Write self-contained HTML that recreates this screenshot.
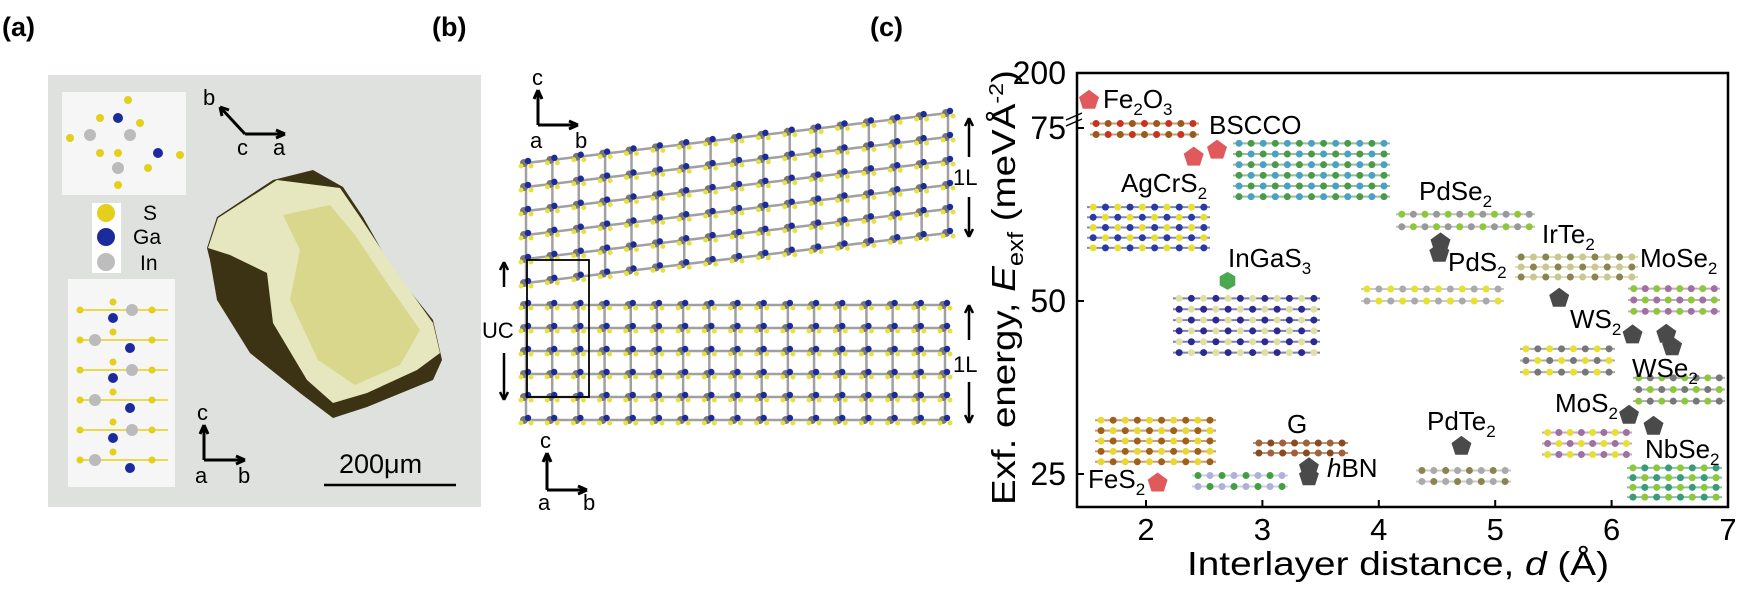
<!DOCTYPE html>
<html><head><meta charset="utf-8">
<style>
body{margin:0;background:#fff;width:1752px;height:600px;overflow:hidden;font-family:"Liberation Sans",sans-serif}
svg{position:absolute;left:0;top:0}
</style></head>
<body>
<svg id="fig" width="1752" height="600" viewBox="0 0 1752 600" xmlns="http://www.w3.org/2000/svg" font-family="Liberation Sans, sans-serif">
<text x="2" y="36" font-size="27" font-weight="bold">(a)</text>
<text x="432" y="36" font-size="27" font-weight="bold">(b)</text>
<text x="870" y="36" font-size="27" font-weight="bold">(c)</text>

<!-- panel a -->
<g id="panela">
<rect x="48" y="75" width="433" height="432" fill="#dfe1de"/>
<polygon points="207,248 217,217 273,180 313,170 343,187 363,217 393,270 433,320 442,360 433,380 367,407 333,418 300,393 250,353 217,300 210,260" fill="#3b3313"/>
<polygon points="208,248 218,218 277,180 340,188 360,217 393,267 433,323 440,353 417,370 367,393 333,403 307,380 273,323 267,273 230,255" fill="#e6e6bf"/>
<polygon points="283,215 330,205 355,235 385,280 420,330 400,365 355,385 318,360 290,300 300,250" fill="#d4d27a" opacity="0.75"/>
<rect x="62" y="92" width="124" height="103" fill="#f6f6f6"/>
<g id="topatoms"></g>
<rect x="92" y="203" width="29" height="70" fill="#fff"/>
<circle cx="106" cy="213" r="9" fill="#e3cf1c"/><circle cx="106" cy="237" r="9" fill="#1c2b9c"/><circle cx="106" cy="262" r="9" fill="#bdbdbd"/>
<text x="143" y="220" font-size="21">S</text>
<text x="133" y="244" font-size="21">Ga</text>
<text x="140" y="270" font-size="21">In</text>
<rect x="68" y="279" width="107" height="208" fill="#f6f6f6"/>
<g id="sideatoms"></g>
<text x="203" y="105" font-size="22">b</text>
<path d="M245,134 L220,107 M220,107 l2,9 M220,107 l9,3 M245,134 L285,134 M285,134 l-9,-4 M285,134 l-9,4" stroke="#000" stroke-width="3" fill="none"/>
<text x="237" y="155" font-size="22">c</text><text x="273" y="155" font-size="22">a</text>
<text x="197" y="420" font-size="22">c</text>
<path d="M204,460 L204,425 M204,425 l-4,9 M204,425 l4,9 M204,460 L245,460 M245,460 l-9,-4 M245,460 l-9,4" stroke="#000" stroke-width="3" fill="none"/>
<text x="195" y="483" font-size="22">a</text><text x="238" y="483" font-size="22">b</text>
<line x1="324" y1="485" x2="456" y2="485" stroke="#000" stroke-width="2.5"/>
<text x="339" y="473" font-size="27">200μm</text>
</g>

<!-- panel b -->
<g id="panelb">
<text x="532" y="85" font-size="22">c</text>
<path d="M538,125 L538,90 M538,90 l-4,9 M538,90 l4,9 M538,125 L578,125 M578,125 l-9,-4 M578,125 l-9,4" stroke="#000" stroke-width="3" fill="none"/>
<text x="530" y="148" font-size="22">a</text><text x="575" y="148" font-size="22">b</text>
<text x="540" y="448" font-size="22">c</text>
<path d="M547,490 L547,453 M547,453 l-4,9 M547,453 l4,9 M547,490 L587,490 M587,490 l-9,-4 M587,490 l-9,4" stroke="#000" stroke-width="3" fill="none"/>
<text x="538" y="510" font-size="22">a</text><text x="583" y="510" font-size="22">b</text>
<text x="482" y="338" font-size="22">UC</text>
<path d="M504,287 L504,262 M504,262 l-4,8 M504,262 l4,8 M504,353 L504,400 M504,400 l-4,-8 M504,400 l4,-8" stroke="#000" stroke-width="2.5" fill="none"/>
<path d="M969,157 L969,118 M969,118 l-4,8 M969,118 l4,8 M969,197 L969,237 M969,237 l-4,-8 M969,237 l4,-8" stroke="#000" stroke-width="2.5" fill="none"/>
<text x="953" y="185" font-size="22">1L</text>
<path d="M969,340 L969,305 M969,305 l-4,8 M969,305 l4,8 M969,382 L969,423 M969,423 l-4,-8 M969,423 l4,-8" stroke="#000" stroke-width="2.5" fill="none"/>
<text x="953" y="372" font-size="22">1L</text>
</g>

<g id="chart"></g>
</svg>
<script>
(function(){
  var ns='http://www.w3.org/2000/svg';
  function el(tag,a,p){var e=document.createElementNS(ns,tag);for(var k in a)e.setAttribute(k,a[k]);p.appendChild(e);return e;}
  // insets in panel a
  var ta=document.getElementById('topatoms');
  var tpts=[[90,135,'#bbb',6],[130,135,'#bbb',6],[118,118,'#1c2b9c',5],[158,153,'#1c2b9c',5],[118,168,'#bbb',6],[70,138,'#e3cf1c',4],[100,118,'#e3cf1c',4],[140,123,'#e3cf1c',4],[180,155,'#e3cf1c',4],[148,168,'#e3cf1c',4],[100,153,'#e3cf1c',4],[118,153,'#e3cf1c',4],[128,100,'#e3cf1c',4],[118,185,'#e3cf1c',4]];
  tpts.forEach(function(p){el('circle',{cx:p[0],cy:p[1],r:p[3],fill:p[2]},ta);});
  var sa=document.getElementById('sideatoms');
  for(var r=0;r<6;r++){
    var y=310+r*30;
    el('line',{x1:78,y1:y,x2:168,y2:y,stroke:'#e3cf1c','stroke-width':1.5},sa);
    el('circle',{cx:(r%2?95:132),cy:y,r:6,fill:'#bbb'},sa);
    el('circle',{cx:(r%2?130:113),cy:y+8,r:5,fill:'#1c2b9c'},sa);
    el('circle',{cx:80,cy:y,r:3.5,fill:'#e3cf1c'},sa);
    el('circle',{cx:152,cy:y,r:3.5,fill:'#e3cf1c'},sa);
    el('circle',{cx:113,cy:y-8,r:3.5,fill:'#e3cf1c'},sa);
  }
  var g=document.getElementById('panelb');
  function slab(x0,x1,yTL,yTR,h,rows,cols){
    var dx=(x1-x0)/(cols-1),sl=(yTR-yTL)/(cols-1),dy=h/(rows-1);
    for(var r=0;r<rows;r++)for(var c=0;c<cols;c++){
      var x=x0+dx*c,y=yTL+sl*c+dy*r;
      if(c<cols-1)el('line',{x1:x,y1:y,x2:x+dx,y2:y+sl,stroke:'#a0a0a0','stroke-width':2.5},g);
      if(r<rows-1)el('line',{x1:x,y1:y,x2:x,y2:y+dy,stroke:'#a0a0a0','stroke-width':2.5},g);
    }
    for(var r=0;r<rows;r++)for(var c=0;c<cols;c++){
      var x=x0+dx*c,y=yTL+sl*c+dy*r;
      el('circle',{cx:x-2,cy:y,r:4,fill:'#777'},g);
      el('circle',{cx:x+2,cy:y-2,r:3.2,fill:'#1c2b9c'},g);
      el('circle',{cx:x+5,cy:y+3,r:2.5,fill:'#e8e040'},g);
      el('circle',{cx:x-5,cy:y+3,r:2.5,fill:'#e8e040'},g);
    }
  }
  slab(526,948,163,113,120,6,17);
  slab(526,945,305,305,115,6,17);
  el('rect',{x:527,y:260,width:62,height:137,fill:'none',stroke:'#000','stroke-width':1.8},g);
})();

// ---- panel c chart data ----
var materials=["Fe2O3","BSCCO-a","BSCCO-b","InGaS3","FeS2","hBN-a","hBN-b","PdS2-a","PdS2-b","PdTe2","IrTe2","WS2","WSe2-a","WSe2-b","MoS2","NbSe2"];
var distances=[1.51,2.41,2.61,2.70,2.10,3.40,3.40,4.53,4.52,4.71,5.55,6.18,6.47,6.52,6.15,6.36];
var energies=[79.0,70.8,71.8,52.9,23.7,25.9,24.6,58.4,56.9,29.0,50.4,45.1,45.2,43.4,33.5,31.9];
var markerKinds=["red","red","red","green","red","dark","dark","dark","dark","dark","dark","dark","dark","dark","dark","dark"];
var xTicks=[2,3,4,5,6,7];
var yTicks=[25,50,75];

(function(){
  var ns='http://www.w3.org/2000/svg';var g=document.getElementById('chart');
  var L=1077,R=1728,T=73,B=507;
  function xs(d){return 1146+(d-2)*116.4;}
  function ys(e){return 474-(e-25)*6.92;}
  function mk(tag,attrs,parent){var e=document.createElementNS(ns,tag);for(var k in attrs)e.setAttribute(k,attrs[k]);(parent||g).appendChild(e);return e;}
  var deco=[[1090,118,109,22,'#c8321e','#9a5a1a'],[1233,138,157,64,'#4aa0c8','#4a9a4a'],[1087,202,123,51,'#e8e030','#2a3aa0'],[1173,293,147,65,'#e0e0a0','#2a2a90'],[1396,208,139,25,'#8cc83a','#999'],[1361,283,143,24,'#e8e030','#aaa'],[1095,415,121,52,'#e8d830','#a06018'],[1253,438,95,20,'#a0623a','#8a4a20'],[1192,470,96,22,'#40a040','#b0b0d8'],[1416,465,95,22,'#8a8450','#aaa'],[1515,252,123,30,'#8a8450','#c8c890'],[1628,283,92,34,'#8cc83a','#a070a0'],[1520,343,95,35,'#e8e030','#777'],[1633,372,92,35,'#8cc83a','#777'],[1542,427,90,33,'#e8e030','#a070a0'],[1627,463,95,39,'#8cc83a','#3a9a7a']];
  deco.forEach(function(d){
    var grp=mk('g',{});
    
    
    var nx=Math.max(3,Math.round(d[2]/12)),ny=Math.max(2,Math.round(d[3]/11));
    for(var j=0;j<ny;j++){
      mk('line',{x1:d[0],y1:d[1]+(j+0.5)*d[3]/ny,x2:d[0]+d[2],y2:d[1]+(j+0.5)*d[3]/ny,stroke:d[5],'stroke-width':2,opacity:0.6},grp);
      for(var i=0;i<nx;i++){
        mk('circle',{cx:d[0]+(i+0.5)*d[2]/nx,cy:d[1]+(j+0.5)*d[3]/ny,r:3.5,fill:(i+j)%2?d[5]:d[4]},grp);
      }
    }
  });
  var frame=mk('rect',{x:L,y:T,width:R-L,height:B-T,fill:'none',stroke:'#000','stroke-width':2.5});
  
  
  xTicks.forEach(function(v){
    var x=xs(v);
    var tk=mk('line',{x1:x,y1:B,x2:x,y2:B-7,stroke:'#000','stroke-width':2});
    
    
    var t=mk('text',{x:x,y:540,'font-size':31,'text-anchor':'middle'});t.textContent=v;
    
    
  });
  yTicks.forEach(function(v){
    var y=ys(v);
    var tk=mk('line',{x1:L,y1:y,x2:L+7,y2:y,stroke:'#000','stroke-width':2});
    
    
    var t=mk('text',{x:1066,y:y+11,'font-size':32,'text-anchor':'end'});t.textContent=v;
    
    
  });
  var t200=mk('text',{x:1066,y:84,'font-size':32,'text-anchor':'end'});t200.textContent='200';
  
  
  var br=mk('path',{d:'M1066,120 l16,-7 M1066,126 l16,-7',stroke:'#000','stroke-width':1.5,fill:'none'});
  
  
  function pent(cx,cy,r){var p=[];for(var i=0;i<5;i++){var a=-Math.PI/2+i*2*Math.PI/5;p.push((cx+r*Math.cos(a)).toFixed(1)+','+(cy+r*Math.sin(a)).toFixed(1));}return p.join(' ');}
  function hex(cx,cy,r){var p=[];for(var i=0;i<6;i++){var a=-Math.PI/2+i*Math.PI/3;p.push((cx+r*Math.cos(a)).toFixed(1)+','+(cy+r*Math.sin(a)).toFixed(1));}return p.join(' ');}
  var colors={red:'#e05a5c',green:'#4aa84f',dark:'#4a4a4a'};
  materials.forEach(function(m,i){
    var cx=xs(distances[i]),cy=ys(energies[i]);
    var el=mk('polygon',{points:markerKinds[i]==='green'?hex(cx,cy,9):pent(cx,cy,10.5),fill:colors[markerKinds[i]]});
    
    
  });
  var labels=[["Fe","2","O","3",1103,108],["BSCCO","","","",1209,134],["AgCrS","2","","",1121,192],["InGaS","3","","",1228,267],["PdSe","2","","",1419,200],["PdS","2","","",1448,271],["IrTe","2","","",1542,243],["MoSe","2","","",1640,267],["WS","2","","",1570,328],["WSe","2","","",1632,377],["MoS","2","","",1555,412],["NbSe","2","","",1645,458],["PdTe","2","","",1427,430],["G","","","",1287,433],["FeS","2","","",1088,488]];
  labels.forEach(function(l){
    var t=mk('text',{x:l[4],y:l[5],'font-size':26});
    
    
    var s1=mk('tspan',{},t);s1.textContent=l[0];
    if(l[1]){var s2=mk('tspan',{'font-size':17,dy:7},t);s2.textContent=l[1];}
    if(l[2]){var s3=mk('tspan',{dy:-7},t);s3.textContent=l[2];var s4=mk('tspan',{'font-size':17,dy:7},t);s4.textContent=l[3];}
  });
  var hb=mk('text',{x:1327,y:477,'font-size':26});
  
  
  var h1=mk('tspan',{'font-style':'italic'},hb);h1.textContent='h';var h2=mk('tspan',{},hb);h2.textContent='BN';
  var xt=mk('text',{x:1187,y:575,'font-size':33,textLength:422,lengthAdjust:'spacingAndGlyphs'});
  
  
  var a=mk('tspan',{},xt);a.textContent='Interlayer distance, ';var b=mk('tspan',{'font-style':'italic'},xt);b.textContent='d';var c=mk('tspan',{},xt);c.textContent=' (Å)';
  var yt=mk('text',{x:-217,y:0,'font-size':33,textLength:435,lengthAdjust:'spacingAndGlyphs',transform:'translate(1015,288) rotate(-90)'});
  
  
  var y1=mk('tspan',{},yt);y1.textContent='Exf. energy, ';var y2=mk('tspan',{'font-style':'italic'},yt);y2.textContent='E';var y3=mk('tspan',{'font-size':22,dy:8},yt);y3.textContent='exf';var y4=mk('tspan',{dy:-8},yt);y4.textContent=' (meVÅ';var y5=mk('tspan',{'font-size':20,dy:-12},yt);y5.textContent='-2';var y6=mk('tspan',{dy:12},yt);y6.textContent=')';
})();
</script>
</body></html>
